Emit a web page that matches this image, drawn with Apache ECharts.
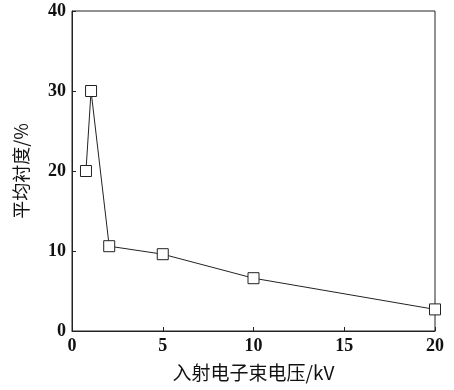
<!DOCTYPE html>
<html>
<head>
<meta charset="utf-8">
<script src="https://cdn.jsdelivr.net/npm/echarts@6/dist/echarts.min.js"></script>
<style>
  html, body { margin: 0; padding: 0; background: #fff; }
  #chart { width: 454px; height: 390px; }
</style>
</head>
<body>
<div id="chart"></div>
<script>
// 入射电子束电压 (kV) 与平均衬度 (%)
const voltage = [0.77, 1.05, 2.05, 5, 10, 20]
const contrast = [20, 30, 10.6, 9.6, 6.6, 2.7]
const xTicks = [0, 5, 10, 15, 20]
const yTicks = [0, 10, 20, 30, 40]

const numFont = { fontFamily: 'Liberation Serif', fontWeight: 'bold', fontSize: 18, color: '#111' }
const cjkFont = { fontFamily: 'Noto Sans CJK SC', fontSize: 18, color: '#111' }

const chart = echarts.init(document.getElementById('chart'))
const option = {
  animation: false,
  grid: { left: 72, right: 19, top: 11, bottom: 59, show: true, borderColor: '#222', borderWidth: 1 },
  xAxis: {
    type: 'value',
    min: xTicks[0],
    max: xTicks[xTicks.length - 1],
    interval: 5,
    name: '入射电子束电压/kV',
    nameLocation: 'middle',
    nameGap: 32,
    nameTextStyle: { ...cjkFont, fontSize: 19 },
    axisLine: { lineStyle: { color: '#222', width: 1 } },
    axisTick: { inside: true, length: 4, lineStyle: { color: '#222' } },
    axisLabel: { ...numFont, margin: 6 },
    splitLine: { show: false },
  },
  yAxis: {
    type: 'value',
    min: yTicks[0],
    max: yTicks[yTicks.length - 1],
    interval: 10,
    name: '平均衬度/%',
    nameLocation: 'middle',
    nameGap: 42,
    nameTextStyle: cjkFont,
    axisLine: { show: true, lineStyle: { color: '#222', width: 1 } },
    axisTick: { show: true, inside: true, length: 4, lineStyle: { color: '#222' } },
    axisLabel: { ...numFont, margin: 6 },
    splitLine: { show: false },
  },
  series: [{
    type: 'line',
    data: voltage.map((v, i) => [v, contrast[i]]),
    symbol: 'rect',
    symbolSize: 11,
    lineStyle: { color: '#222', width: 1 },
    itemStyle: { color: '#fff', borderColor: '#222', borderWidth: 1 },
  }],
}
chart.setOption(option)
</script>
</body>
</html>
